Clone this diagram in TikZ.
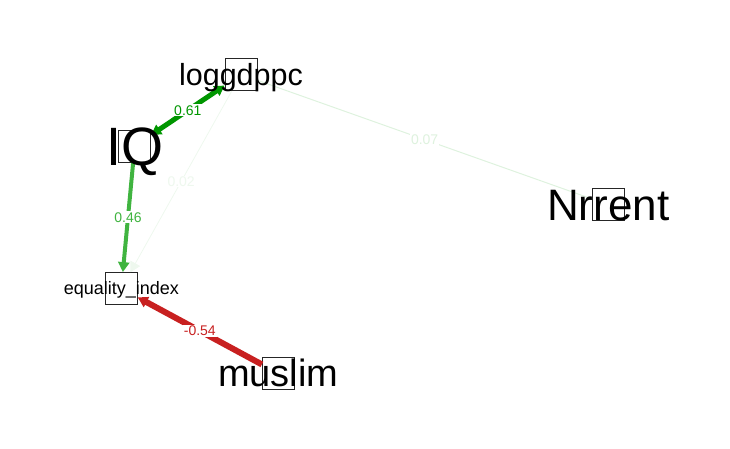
\documentclass[tikz,border=0pt]{standalone}
\usepackage{fontspec}
\setmainfont{Liberation Sans}
\usetikzlibrary{arrows.meta}
\definecolor{gdark}{RGB}{0,150,0}
\definecolor{gmid}{RGB}{64,180,64}
\definecolor{gfaint}{RGB}{222,242,222}
\definecolor{gfainter}{RGB}{238,248,238}
\definecolor{redge}{RGB}{200,32,32}
\begin{document}
\begin{tikzpicture}[x=1pt,y=-1pt,
  sq/.style={draw=black!85, line width=0.8pt, fill=white, minimum size=32pt, inner sep=0pt},
  lab/.style={inner sep=0pt, anchor=base, font=\fontsize{#1}{#1}\selectfont, yshift=-0.358*#1pt},
  elab/.style={fill=white, inner sep=1pt, font=\fontsize{14}{14}\selectfont},
  tipe/.style={-{Triangle[length=10pt,width=11pt]}},
  tipb/.style={{Triangle[length=10pt,width=11pt]}-{Triangle[length=10pt,width=11pt]}}
]
\useasboundingbox (0,0) rectangle (730,448);
% node squares
\node[sq] (lg) at (241,74.5) {};
\node[sq] (iq) at (134.7,146) {};
\node[sq] (eq) at (121.3,288.5) {};
\node[sq] (mu) at (278.3,373.3) {};
\node[sq] (nr) at (608.3,204.7) {};
% edges
\draw[gfaint, line width=1pt] (lg) -- node[elab, text=gfaint, pos=0.5] {0.07} (nr);
\draw[gfainter, line width=0.8pt, tipe] (lg) -- node[elab, text=gfainter] {0.02} (eq);
\draw[gmid, line width=4pt, tipe] (iq) -- node[elab, text=gmid] {0.46} (eq);
\draw[redge, line width=6pt, tipe] (mu) -- node[elab, text=redge] {-0.54} (eq);
\draw[gdark, line width=5pt, tipb] (iq) -- node[elab, text=gdark] {0.61} (lg);
% labels
\node[lab=30.5] (lgl) at (lg.center) {loggdppc};
\node[lab=54] (iql) at (iq.center) {IQ};
\node[lab=18] (eql) at (eq.center) {equality\_index};
\node[lab=38] (mul) at (mu.center) {muslim};
\node[lab=44] (nrl) at (nr.center) {Nrrent};
\end{tikzpicture}
\end{document}
